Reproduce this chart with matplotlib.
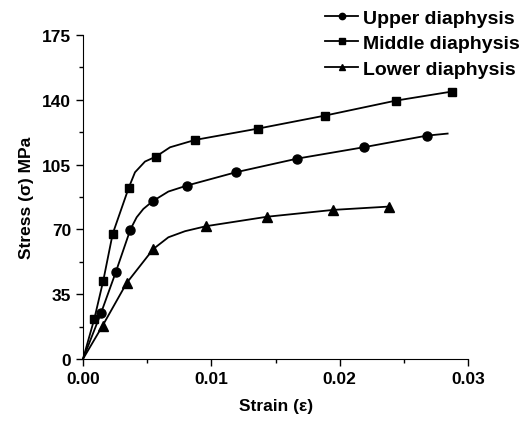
import numpy as np
import matplotlib
matplotlib.use("Agg")
import matplotlib.pyplot as plt
from matplotlib.ticker import MultipleLocator

plt.rcParams['font.family'] = ['Liberation Sans', 'DejaVu Sans']
plt.rcParams['font.weight'] = 'bold'

# values; mark = 1 where a symbol is drawn, 0 = curve-only point
upper_strain = [0.0, 0.0014, 0.00255, 0.00369, 0.00418, 0.0047, 0.00543, 0.00665, 0.00808, 0.0119, 0.0167, 0.02185, 0.02679, 0.0284]
upper_stress = [0.0, 24.7, 46.8, 69.9, 76.5, 81.0, 85.2, 90.4, 93.6, 100.8, 108.2, 114.3, 120.6, 121.7]
upper_mark = [0, 1, 1, 1, 0, 0, 1, 0, 1, 1, 1, 1, 1, 0]

middle_strain = [0.0, 0.00088, 0.00158, 0.00231, 0.00356, 0.00405, 0.00483, 0.00569, 0.00678, 0.00875, 0.01364, 0.01884, 0.02437, 0.02874]
middle_stress = [0.0, 21.6, 42.3, 67.5, 92.4, 100.8, 106.6, 109.3, 114.3, 118.3, 124.4, 131.4, 139.5, 144.4]
middle_mark = [0, 1, 1, 1, 1, 0, 0, 1, 0, 1, 1, 1, 1, 1]

lower_strain = [0.0, 0.00153, 0.0034, 0.00548, 0.00665, 0.00795, 0.00959, 0.01434, 0.01951, 0.02387]
lower_stress = [0.0, 18.0, 41.0, 59.4, 65.7, 69.0, 71.7, 76.8, 80.5, 82.3]
lower_mark = [0, 1, 1, 1, 0, 0, 1, 1, 1, 1]

series = [
    ("Upper diaphysis", upper_strain, upper_stress, upper_mark, "o", 6.5),
    ("Middle diaphysis", middle_strain, middle_stress, middle_mark, "s", 5.5),
    ("Lower diaphysis", lower_strain, lower_stress, lower_mark, "^", 6.5),
]

fig = plt.figure(figsize=(5.32, 4.27), dpi=100)
ax = fig.add_axes([0.156, 0.157, 0.724, 0.759])

for name, x, y, m, mk, ms in series:
    idx = [i for i, v in enumerate(m) if v]
    ax.plot(x, y, color="black", lw=1.3, marker=mk, markersize=ms,
            markevery=idx, label=name, clip_on=False)

ax.set_xlim(0, 0.03)
ax.set_ylim(0, 175)
ax.xaxis.set_major_locator(MultipleLocator(0.01))
ax.xaxis.set_minor_locator(MultipleLocator(0.005))
ax.yaxis.set_major_locator(MultipleLocator(35))
ax.yaxis.set_minor_locator(MultipleLocator(17.5))
ax.xaxis.set_major_formatter(matplotlib.ticker.FormatStrFormatter('%.2f'))
ax.spines['top'].set_visible(False)
ax.spines['right'].set_visible(False)
ax.tick_params(which='major', direction='out', length=5, width=1, labelsize=12.5)
ax.tick_params(which='minor', direction='out', length=3, width=1)
for lab in ax.get_xticklabels() + ax.get_yticklabels():
    lab.set_fontweight('bold')

ax.set_xlabel("Strain (ε)", fontsize=12.5, fontweight='bold', labelpad=9)
ax.set_ylabel("Stress (σ) MPa", fontsize=12.5, fontweight='bold', labelpad=6)

leg = fig.legend(loc='upper right', bbox_to_anchor=(0.992, 0.995), frameon=False,
                 fontsize=14, handlelength=1.7, handletextpad=0.25,
                 labelspacing=0.42, borderaxespad=0, markerscale=0.7)
for t in leg.get_texts():
    t.set_fontweight('bold')

fig.savefig("out.png", dpi=100)
